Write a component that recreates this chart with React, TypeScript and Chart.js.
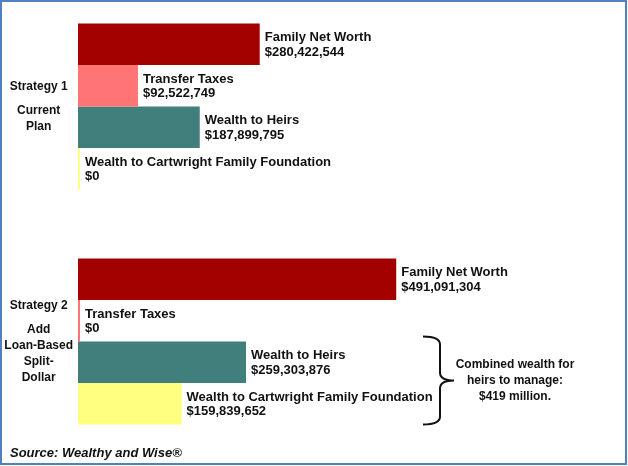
import React, { useEffect, useRef } from "react";
import { Chart, registerables } from "chart.js";

Chart.register(...registerables);

const strategyIndex = [1, 2];
const strategyLabels = [
  ["Strategy 1", "", "", "Current", "", "Plan"],
  ["Strategy 2", "", "", "Add", "", "Loan-Based", "", "Split-", "", "Dollar"],
];
const seriesNames = [
  "Family Net Worth",
  "Transfer Taxes",
  "Wealth to Heirs",
  "Wealth to Cartwright Family Foundation",
];
const familyNetWorth = [280422544, 491091304];
const transferTaxes = [92522749, 0];
const wealthToHeirs = [187899795, 259303876];
const wealthToFoundation = [0, 159839652];
const seriesColors = ["#A30000", "#FF7575", "#417F7C", "#FFFF80"];
const sourceText = "Source: Wealthy and Wise®";

const FONT = "'Liberation Sans', Arial, sans-serif";

const fmt = (v: number) => "$" + v.toLocaleString("en-US");

const annotationPlugin = {
  id: "annotations",
  afterDatasetsDraw(chart: any) {
    const ctx = chart.ctx;
    ctx.save();
    ctx.fillStyle = "#111";
    ctx.textBaseline = "middle";
    ctx.textAlign = "left";
    ctx.font = `bold 13px ${FONT}`;
    chart.data.datasets.forEach((ds: any, di: number) => {
      const meta = chart.getDatasetMeta(di);
      meta.data.forEach((el: any, i: number) => {
        const raw = ds.data[i].x;
        const x = el.x + 5;
        ctx.fillText(ds.label, x, el.y - 6.5);
        ctx.fillText(fmt(raw), x, el.y + 8);
      });
    });

    // brace around heirs + foundation of strategy 2
    const heirsEl = chart.getDatasetMeta(2).data[1];
    const fdnEl = chart.getDatasetMeta(3).data[1];
    const top = heirsEl.y - heirsEl.height / 2 - 5;
    const bottom = fdnEl.y + fdnEl.height / 2;
    const mid = (top + bottom) / 2;
    const xl = 423;
    const xv = 440;
    const xt = 454;
    ctx.strokeStyle = "#111";
    ctx.lineWidth = 2;
    ctx.beginPath();
    ctx.moveTo(xl, top);
    ctx.quadraticCurveTo(xv, top, xv, top + 8);
    ctx.lineTo(xv, mid - 8);
    ctx.quadraticCurveTo(xv, mid, xt, mid);
    ctx.quadraticCurveTo(xv, mid, xv, mid + 8);
    ctx.lineTo(xv, bottom - 8);
    ctx.quadraticCurveTo(xv, bottom, xl, bottom);
    ctx.stroke();

    const combined = wealthToHeirs[1] + wealthToFoundation[1];
    const millions = Math.round(combined / 1e6);
    ctx.font = `bold 12px ${FONT}`;
    ctx.textAlign = "center";
    const cx = 515;
    ctx.fillText("Combined wealth for", cx, mid - 16);
    ctx.fillText("heirs to manage:", cx, mid);
    ctx.fillText(`$${millions} million.`, cx, mid + 16);

    ctx.textAlign = "left";
    ctx.font = `italic bold 13px ${FONT}`;
    ctx.fillText(sourceText, 10, 453);
    ctx.restore();
  },
};

export default function App() {
  const canvasRef = useRef<HTMLCanvasElement | null>(null);

  useEffect(() => {
    if (!canvasRef.current) return;
    const seriesValues = [familyNetWorth, transferTaxes, wealthToHeirs, wealthToFoundation];
    const chart = new Chart(canvasRef.current, {
      type: "bar",
      data: {
        datasets: seriesValues.map((vals, si) => ({
          label: seriesNames[si],
          data: vals.map((v, i) => ({ x: v, y: strategyIndex[i] })),
          backgroundColor: seriesColors[si],
          borderWidth: 0,
          minBarLength: 2,
          barPercentage: 1,
          categoryPercentage: 0.7064,
        })),
      },
      options: {
        indexAxis: "y",
        animation: false,
        responsive: false,
        events: [],
        layout: { padding: { top: 12.5, bottom: 30.5, left: 0, right: 226 } },
        plugins: { legend: { display: false }, tooltip: { enabled: false } },
        scales: {
          x: { type: "linear", display: false, min: 0, max: 500000000 },
          y: {
            type: "linear",
            reverse: true,
            offset: false,
            min: 0.6,
            max: 2.4,
            grid: { display: false, offset: false },
            border: { display: false },
            afterBuildTicks: (scale: any) => {
              scale.ticks = strategyIndex.map((v) => ({ value: v }));
            },
            afterFit: (scale: any) => {
              scale.width = 78;
              scale.paddingTop = 0;
              scale.paddingBottom = 0;
            },
            ticks: {
              autoSkip: false,
              padding: -3,
              crossAlign: "center",
              color: "#111",
              font: { family: FONT, size: 12, weight: "bold", lineHeight: "8px" },
              callback: (value: any) => {
                const idx = strategyIndex.indexOf(Number(value));
                return idx >= 0 ? strategyLabels[idx] : "";
              },
            },
          },
        },
      } as any,
      plugins: [annotationPlugin],
    });
    return () => chart.destroy();
  }, []);

  return (
    <div
      style={{
        position: "fixed",
        left: 0,
        top: 0,
        width: 628,
        height: 466,
        background: "#fff",
      }}
    >
      <canvas
        ref={canvasRef}
        width={628}
        height={466}
        style={{ position: "absolute", left: 0, top: 0, width: 628, height: 466 }}
      />
      <div
        style={{
          position: "absolute",
          left: 0,
          top: 0,
          width: 627,
          height: 465,
          boxSizing: "border-box",
          border: "2px solid #4F81BD",
          pointerEvents: "none",
        }}
      />
    </div>
  );
}
